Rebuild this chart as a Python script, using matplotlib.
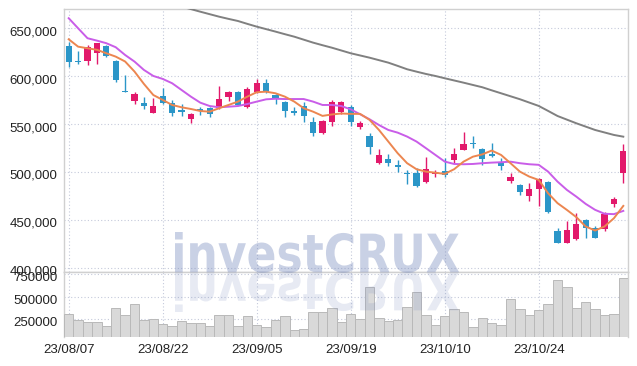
import numpy as np
import matplotlib.pyplot as plt
from matplotlib.textpath import TextPath
from matplotlib.patches import PathPatch
from matplotlib.path import Path
from matplotlib.font_manager import FontProperties
import matplotlib.transforms as mtransforms

plt.rcParams['font.family'] = ['Liberation Sans', 'DejaVu Sans']

# =========================
# Data
# =========================
opens = [631500, 616000, 616200, 623900, 631600, 615900, 585000, 574400, 572300, 561800,
         579300, 572300, 564700, 555300, 565500, 566500, 566400, 578600, 583500, 568100,
         583700, 592600, 580300, 573400, 564000, 569100, 552500, 541100, 552400, 562300,
         567700, 546700, 537600, 509700, 513600, 507000, 498500, 499300, 489800, 497600,
         501000, 512500, 522900, 530000, 523800, 518600, 510700, 490900, 486400, 475100,
         481900, 489300, 438400, 426200, 429900, 449800, 441200, 440100, 466100, 499200]
highs = [636100, 626500, 632900, 634700, 632600, 617100, 601300, 583200, 578100, 577000,
         587300, 575200, 571000, 561900, 568200, 568200, 589900, 584000, 585000, 589000,
         596900, 597200, 581000, 574400, 567600, 573400, 557200, 554000, 575300, 573700,
         570000, 553600, 541100, 523900, 518600, 512500, 502000, 503900, 515100, 502100,
         514400, 524900, 541600, 537000, 524800, 530100, 514400, 498700, 487200, 488800,
         494100, 490200, 441900, 448900, 456900, 450600, 443600, 458600, 474200, 529000]
lows = [609200, 612600, 611600, 612400, 619700, 594300, 583100, 570900, 565400, 561200,
        570900, 558400, 558400, 550700, 559200, 557600, 565300, 574300, 569500, 566400,
        582900, 582000, 570800, 557500, 559400, 551800, 537500, 539600, 547900, 560500,
        548300, 544900, 518700, 508300, 506200, 500300, 487400, 484500, 488700, 495100,
        495100, 509100, 522900, 524700, 507200, 515800, 502000, 488700, 475900, 469500,
        464300, 456800, 425500, 425900, 428900, 431300, 430900, 438700, 463600, 488000]
closes = [615100, 614600, 630200, 634400, 621100, 596000, 583700, 581400, 568800, 568900,
          572300, 561800, 562900, 560300, 563200, 560500, 575900, 583500, 570200, 586400,
          592600, 583700, 576900, 563900, 561200, 558700, 540400, 553400, 573500, 572800,
          551900, 551500, 525600, 517800, 509100, 505500, 497300, 485600, 502900, 500400,
          496900, 518900, 529300, 528700, 513200, 517100, 506200, 495100, 479300, 481900,
          492300, 458500, 426200, 439500, 445400, 441200, 431300, 456200, 471400, 522000]

ma_short = [638500, 630800, 629100, 627500, 623900, 620400, 615300, 604800, 591900, 580300,
            575200, 569900, 567500, 565700, 563600, 562900, 566500, 569900, 573400, 578600,
            583200, 583800, 582100, 578600, 573400, 566500, 562900, 558500, 560000, 561000,
            560600, 560600, 554400, 543900, 531700, 519500, 509100, 502800, 500300, 499200,
            497900, 502800, 510700, 515900, 518300, 522300, 517700, 509100, 500300, 495100,
            491600, 477700, 467400, 460300, 452800, 443000, 438800, 443000, 451600, 464500]
ma_mid = [660500, 650000, 639600, 637100, 634400, 630200, 622100, 615200, 606500, 600200,
          597100, 592600, 585600, 578600, 572300, 568800, 567500, 568100, 568800, 570900,
          573400, 575800, 576400, 576100, 576100, 576100, 573400, 569900, 569900, 568800,
          565300, 560200, 555000, 549000, 543800, 541000, 536900, 531700, 524800, 517800,
          510800, 508300, 508000, 508300, 509100, 509700, 510100, 510700, 509100, 508000,
          507400, 500300, 489900, 481200, 474200, 466600, 460400, 456300, 455900, 459300]
ma_long = [704500, 701900, 699200, 696600, 693900, 691300, 688600, 686000, 683300, 680700,
           678000, 675400, 672700, 670000, 667300, 664700, 662100, 659800, 657600, 654600,
           651700, 649100, 646500, 643800, 641200, 638100, 635000, 632300, 629700, 626800,
           623900, 621600, 619300, 616700, 614100, 610700, 607200, 604700, 602300, 600200,
           597800, 595500, 593200, 590800, 588400, 585200, 582100, 579000, 575900, 572400,
           568900, 563700, 558400, 554600, 550800, 547300, 543800, 541200, 538600, 536800]

volume = [305000, 239000, 217000, 217000, 176000, 372000, 294000, 416000, 239000, 253000,
          195000, 176000, 231000, 206000, 206000, 176000, 294000, 294000, 176000, 283000,
          184000, 165000, 239000, 283000, 128000, 139000, 334000, 334000, 372000, 217000,
          305000, 253000, 604000, 261000, 231000, 242000, 383000, 549000, 294000, 187000,
          283000, 361000, 327000, 165000, 261000, 206000, 187000, 471000, 361000, 294000,
          350000, 416000, 681000, 604000, 372000, 438000, 361000, 294000, 305000, 703000]

tick_idx = [0, 10, 20, 30, 40, 50]
tick_labels = ['23/08/07', '23/08/22', '23/09/05', '23/09/19', '23/10/10', '23/10/24']
price_ticks = [400000, 450000, 500000, 550000, 600000, 650000]
vol_ticks = [250000, 500000, 750000]

# =========================
# Figure
# =========================
W, H = 637, 366
fig = plt.figure(figsize=(W / 100, H / 100), dpi=100)
fig.patch.set_facecolor('white')

left, right = 64, 628
ax = fig.add_axes([left / W, 1 - 271.7 / H, (right - left) / W, (271.7 - 9.3) / H])
axv = fig.add_axes([left / W, 1 - 337.3 / H, (right - left) / W, (337.3 - 271.7) / H], sharex=ax)

red = '#e2196b'
blue = '#2b96c8'
grid_kw = dict(color='#c5cadb', linestyle=(0, (1, 2)), linewidth=0.8)
fs = 9.5

x = np.arange(len(opens))
o = np.array(opens)
c = np.array(closes)
colors = np.where(c >= o, red, blue)

ax.vlines(x, lows, highs, colors=colors, linewidth=1.0, zorder=3)
ax.bar(x, np.maximum(np.abs(c - o), 900), bottom=np.minimum(o, c), width=0.68,
       color=colors, linewidth=0, zorder=4)

ax.plot(x, ma_long, color='#808080', linewidth=1.4, zorder=5)
ax.plot(x, ma_mid, color='#c95de8', linewidth=1.4, zorder=5)
ax.plot(x, ma_short, color='#ec8650', linewidth=1.4, zorder=6)

ax.set_xlim(-0.5, 59.5)
ax.set_ylim(395800, 669800)
ax.set_yticks(price_ticks)
ax.set_yticklabels([f'{v:,}' for v in price_ticks])
ax.set_xticks(tick_idx)
ax.grid(True, **grid_kw)
ax.set_axisbelow(True)
ax.tick_params(axis='x', labelbottom=False, length=0)
ax.tick_params(axis='y', length=0, labelsize=fs, pad=4.8, labelcolor='#222222')

# volume
axv.bar(x, volume, width=1.0, color='#d9d9d9', edgecolor='#b9b9b9', linewidth=0.7, zorder=3)
axv.set_ylim(50900, 776500)
axv.set_yticks(vol_ticks)
axv.set_yticklabels([str(v) for v in vol_ticks])
axv.set_xticks(tick_idx)
axv.set_xticklabels(tick_labels)
axv.grid(True, **grid_kw)
axv.set_axisbelow(True)
axv.tick_params(axis='both', length=0, labelsize=fs, labelcolor='#222222')
axv.tick_params(axis='y', pad=4.8)
axv.tick_params(axis='x', pad=4.5)

for a in (ax, axv):
    for s in a.spines.values():
        s.set_color('#d0d0d0')
        s.set_linewidth(1.0)
axv.spines['bottom'].set_visible(False)

# shift y labels slightly below gridlines like the reference
off = mtransforms.ScaledTranslation(0, -2.5 / 100, fig.dpi_scale_trans)
for a in (ax, axv):
    for lab in a.get_yticklabels():
        lab.set_transform(lab.get_transform() + off)

# =========================
# Watermark with reflection
# =========================
wax = fig.add_axes([0, 0, 1, 1])
wax.set_xlim(0, W)
wax.set_ylim(H, 0)
wax.axis('off')
wax.set_zorder(10)

tp = TextPath((0, 0), 'investCRUX', size=1,
              prop=FontProperties(family='DejaVu Sans', weight='bold'))
ext = tp.get_extents()
sx = (459 - 175) / (ext.x1 - ext.x0)
sy = 40 / ext.y1
base = 272
v = tp.vertices
main = np.column_stack([175 + (v[:, 0] - ext.x0) * sx, base - v[:, 1] * sy])
refl = np.column_stack([175 + (v[:, 0] - ext.x0) * sx, base + v[:, 1] * sy])
wax.add_patch(PathPatch(Path(main, tp.codes), facecolor='#7a8cbe', edgecolor='none', alpha=0.4))
wax.add_patch(PathPatch(Path(refl, tp.codes), facecolor='#7a8cbe', edgecolor='none', alpha=0.18))

fig.savefig('out.png', dpi=100)
